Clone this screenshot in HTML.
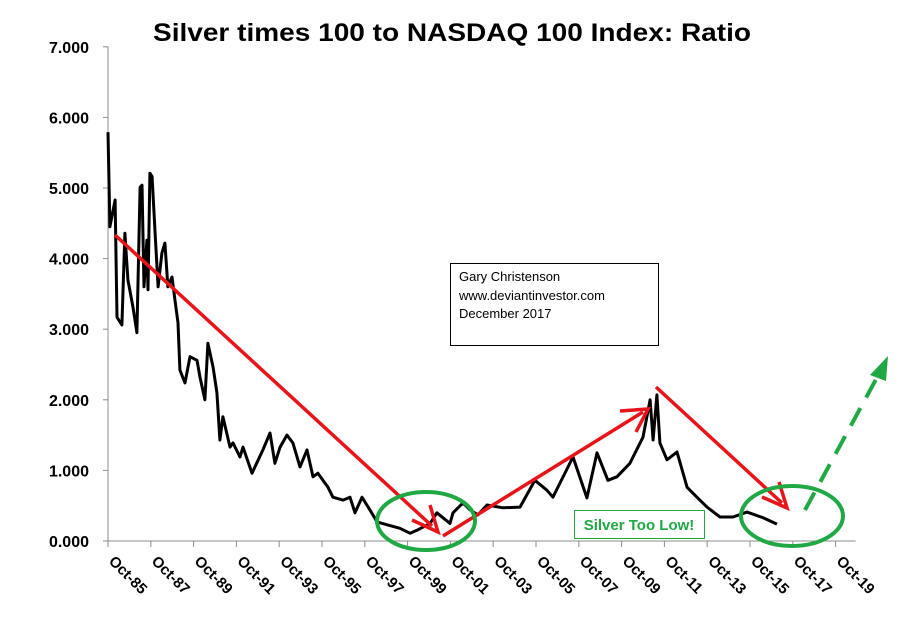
<!DOCTYPE html>
<html><head><meta charset="utf-8"><style>
html,body{margin:0;padding:0;background:#fff;}
svg{display:block;font-family:"Liberation Sans",sans-serif;}
</style></head><body>
<svg id="chart" width="904" height="637" viewBox="0 0 904 637" xmlns="http://www.w3.org/2000/svg">
<rect x="0" y="0" width="904" height="637" fill="#fff"/>
<text x="452" y="41" text-anchor="middle" font-size="25" font-weight="bold" textLength="598" lengthAdjust="spacingAndGlyphs">Silver times 100 to NASDAQ 100 Index:  Ratio</text>
<g id="axes"></g>
<g id="series"></g>
<g stroke="#e8141a" stroke-width="3.5" fill="none">
<line x1="115" y1="235" x2="432" y2="526"/>
<polyline points="412,520 438,532 430,505"/>
<line x1="443" y1="536" x2="643" y2="412"/>
<polyline points="620,411 648,409 636,432"/>
<line x1="656" y1="387" x2="782" y2="503"/>
<polyline points="762,497 787,508 779,482"/>
</g>
<g stroke="#1fa843" stroke-width="4" fill="none">
<line x1="805" y1="510" x2="880" y2="372" stroke-dasharray="20,12"/>
<polygon points="888,356 870,375 886,381" fill="#1fa843" stroke="none"/>
</g>
<ellipse cx="426" cy="521" rx="49" ry="29" fill="none" stroke="#1fa843" stroke-width="4"/>
<ellipse cx="792" cy="516" rx="51" ry="30" fill="none" stroke="#1fa843" stroke-width="4"/>
<rect x="574.5" y="510.5" width="130" height="28" fill="#fff" stroke="#1fa843" stroke-width="1"/>
<text x="639" y="530" text-anchor="middle" font-size="15" font-weight="bold" fill="#1fa843">Silver Too Low!</text>
<rect x="450.5" y="263.5" width="208" height="82" fill="#fff" stroke="#000" stroke-width="1"/>
<text x="459" y="281" font-size="13">Gary Christenson</text>
<text x="459" y="300" font-size="13">www.deviantinvestor.com</text>
<text x="459" y="318" font-size="13">December 2017</text>
</svg>
<script>
const years = [1985.75,1985.84,1986.08,1986.17,1986.40,1986.54,1986.68,1986.92,1987.10,1987.25,1987.34,1987.43,1987.57,1987.62,1987.71,1987.81,1987.95,1988.09,1988.27,1988.41,1988.55,1988.74,1988.88,1989.02,1989.11,1989.35,1989.58,1989.91,1990.05,1990.28,1990.42,1990.66,1990.84,1990.98,1991.12,1991.45,1991.59,1991.92,1992.06,1992.48,1992.99,1993.32,1993.55,1993.79,1994.11,1994.39,1994.72,1995.05,1995.33,1995.56,1996.03,1996.26,1996.73,1997.06,1997.29,1997.62,1997.99,1998.32,1998.79,1999.39,1999.86,2000.24,2000.80,2001.12,2001.73,2001.87,2002.34,2002.67,2003.04,2003.46,2004.21,2005.00,2005.70,2006.26,2006.54,2007.48,2008.13,2008.60,2009.11,2009.53,2010.14,2010.75,2011.08,2011.22,2011.40,2011.54,2011.87,2012.34,2012.81,2013.27,2013.74,2014.35,2014.96,2015.61,2016.36,2017.01,2017.95];
const ratios = [5.79,4.45,4.83,3.17,3.06,4.36,3.70,3.31,2.95,5.01,5.04,3.60,4.26,3.56,5.21,5.16,4.36,3.60,4.08,4.22,3.60,3.74,3.41,3.09,2.42,2.24,2.61,2.56,2.32,2.00,2.80,2.46,2.10,1.43,1.76,1.33,1.39,1.19,1.33,0.96,1.29,1.53,1.10,1.33,1.50,1.39,1.05,1.29,0.91,0.96,0.76,0.62,0.58,0.62,0.40,0.62,0.44,0.27,0.23,0.18,0.11,0.16,0.25,0.40,0.25,0.40,0.54,0.44,0.37,0.51,0.47,0.48,0.86,0.72,0.62,1.19,0.61,1.25,0.86,0.91,1.10,1.47,2.00,1.43,2.07,1.39,1.15,1.26,0.76,0.62,0.48,0.34,0.34,0.41,0.33,0.24];
const yTicks = [0,1,2,3,4,5,6,7];
const yTickLabels = ["0.000","1.000","2.000","3.000","4.000","5.000","6.000","7.000"];
const xTickYears = [1985.75,1987.75,1989.75,1991.75,1993.75,1995.75,1997.75,1999.75,2001.75,2003.75,2005.75,2007.75,2009.75,2011.75,2013.75,2015.75,2017.75,2019.75];
const xTickLabels = ["Oct-85","Oct-87","Oct-89","Oct-91","Oct-93","Oct-95","Oct-97","Oct-99","Oct-01","Oct-03","Oct-05","Oct-07","Oct-09","Oct-11","Oct-13","Oct-15","Oct-17","Oct-19"];

const NS = "http://www.w3.org/2000/svg";
const X0 = 108, PXY = 21.4, Y0 = 541, PXV = 70.6;
function xScale(yr){ return X0 + (yr - 1985.75) * PXY; }
function yScale(v){ return Y0 - v * PXV; }
function mk(tag, attrs, parent){ const e = document.createElementNS(NS, tag); for (const k in attrs) e.setAttribute(k, attrs[k]); parent.appendChild(e); return e; }

const axes = document.getElementById('axes');
const yAxis = mk('line', {x1:X0, y1:yScale(7), x2:X0, y2:Y0, stroke:'#8c8c8c', 'stroke-width':1}, axes);


const xAxis = mk('line', {x1:X0-5, y1:Y0, x2:xScale(2019.75)+20, y2:Y0, stroke:'#8c8c8c', 'stroke-width':1}, axes);



yTicks.forEach((v, i) => {
  const y = yScale(v);
  const t = mk('line', {x1:X0-5, y1:y, x2:X0, y2:y, stroke:'#8c8c8c', 'stroke-width':1}, axes);
  
  
  const lb = mk('text', {x:89, y:y+6, 'text-anchor':'end', 'font-size':16, 'font-weight':'bold'}, axes);
  lb.textContent = yTickLabels[i];
  
  
});
xTickYears.forEach((yr, i) => {
  const x = xScale(yr);
  const t = mk('line', {x1:x, y1:Y0, x2:x, y2:Y0+6, stroke:'#8c8c8c', 'stroke-width':1}, axes);
  
  
  const lb = mk('text', {x:0, y:0, 'font-size':15, 'font-weight':'bold', transform:'translate(' + (x) + ',' + (Y0+21) + ') rotate(45)'}, axes);
  lb.textContent = xTickLabels[i];
  
  
});

const series = document.getElementById('series');
const pts = years.map((yr, i) => xScale(yr).toFixed(1) + ',' + yScale(ratios[i]).toFixed(1)).join(' ');
const line = mk('polyline', {points:pts, fill:'none', stroke:'#000', 'stroke-width':3, 'stroke-linejoin':'round'}, series);


</script>
</body></html>
